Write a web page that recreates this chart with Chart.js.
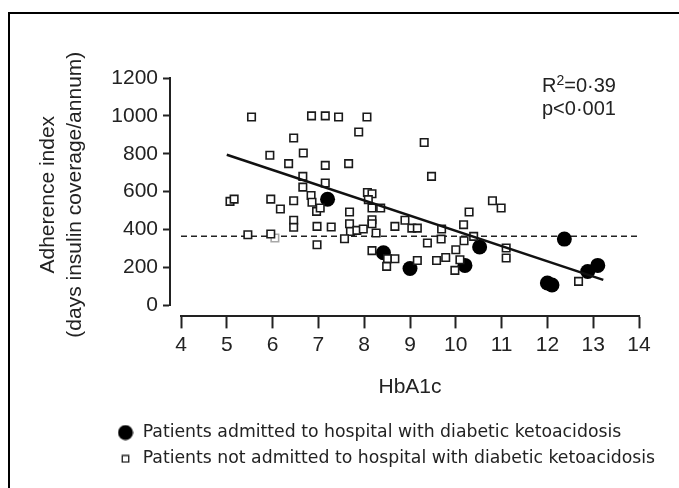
<!DOCTYPE html>
<html>
<head>
<meta charset="utf-8">
<title>Adherence index and HbA1c</title>
<script src="https://cdn.jsdelivr.net/npm/chart.js@4.4.1/dist/chart.umd.min.js"></script>
<style>
  html, body { margin: 0; padding: 0; background: #fff; }
  #wrap { position: relative; width: 679px; height: 488px; overflow: hidden; }
  #frame {
    position: absolute; left: 8px; top: 12px; right: -20px; bottom: -20px;
    border-left: 2.5px solid #000; border-top: 2.5px solid #000;
    pointer-events: none;
  }
</style>
</head>
<body>
<div id="wrap">
  <canvas id="chart"></canvas>
  <div id="frame"></div>
</div>
<script>
// patients admitted with DKA
const admittedX = [7.2, 8.42, 9.0, 10.2, 10.52, 12.0, 12.1, 12.37, 12.88, 13.1];
const admittedY = [560, 278, 195, 211, 308, 118, 108, 350, 179, 211];

// patients never admitted
const notAdmittedX = [
  5.54, 6.85, 7.15, 7.44, 6.46, 5.94, 6.35, 6.67, 7.15, 6.66, 6.66, 7.15,
  8.06, 7.88, 9.31, 7.66, 9.47,
  5.07, 5.16, 5.96, 6.17, 6.46, 6.84, 6.86, 6.96, 7.04, 6.46, 6.46, 6.97, 7.28, 5.46, 5.96, 6.97,
  8.07, 8.17, 8.09, 8.17, 8.36, 7.68, 7.68, 7.70, 7.84, 7.98, 8.17, 8.17, 8.26, 7.57, 8.67,
  8.89, 9.04, 9.16, 8.17, 8.51, 8.67, 8.49, 9.16, 9.38, 9.69, 9.68, 9.58, 9.78, 10.0, 10.09,
  9.98, 10.29, 10.17, 10.18, 10.39,
  10.80, 10.99, 11.10, 11.10, 12.68
];
const notAdmittedY = [
  994, 1000, 1000, 994, 883, 792, 748, 804, 739, 681, 624, 646,
  994, 915, 860, 748, 681,
  549, 561, 561, 509, 552, 580, 544, 496, 514, 449, 412, 417, 414, 373, 377, 320,
  596, 589, 558, 514, 514, 493, 431, 390, 396, 403, 452, 431, 382, 352, 417,
  449, 408, 408, 289, 246, 246, 206, 237, 329, 403, 350, 237, 253, 294, 241,
  185, 493, 426, 341, 364,
  552, 514, 303, 250, 127
];
// one faint square in the scan
const greyX = [6.05];
const greyY = [356];

// regression line ends and the dashed reference level
const fitX = [5.0, 13.22];
const fitY = [795, 135];
const refX = [4, 14];
const refY = [365, 365];

const xTicks = [4, 5, 6, 7, 8, 9, 10, 11, 12, 13, 14];
const yTicks = [0, 200, 400, 600, 800, 1000, 1200];

const ink = '#222';
const axisFont = '"Liberation Sans", Arial, sans-serif';

const toPoints = (xs, ys) => xs.map((x, i) => ({ x: x, y: ys[i] }));

// legend markers at their own sizes
function makeIcon(size, draw) {
    const c = document.createElement('canvas');
    c.width = c.height = size;
    draw(c.getContext('2d'));
    return c;
}
const dotIcon = makeIcon(16, (g) => {
    g.fillStyle = '#000';
    g.beginPath();
    g.arc(8, 8, 7.5, 0, Math.PI * 2);
    g.fill();
});
const boxIcon = makeIcon(9, (g) => {
    g.strokeStyle = '#1a1a1a';
    g.lineWidth = 1.3;
    g.strokeRect(1.25, 1.25, 6.5, 6.5);
});
const legendIcons = [dotIcon, boxIcon];

// axes sit slightly away from the plot box; legend may run to the right edge
const offsetAxes = {
    id: 'offsetAxes',
    afterLayout(chart) {
        chart.scales.x.top += 11;
        chart.scales.y.right -= 11;
        if (chart.legend) {
            chart.legend.right = chart.width;
            chart.legend.width = chart.legend.right - chart.legend.left;
        }
    }
};

// rotated y title and the fit statistics
const extraText = {
    id: 'extraText',
    afterDraw(chart) {
        const { ctx, chartArea } = chart;
        ctx.save();
        ctx.fillStyle = ink;

        ctx.save();
        ctx.translate(chartArea.left - 133, (chartArea.top + chartArea.bottom) / 2 + 3);
        ctx.rotate(-Math.PI / 2);
        ctx.textAlign = 'center';
        ctx.textBaseline = 'middle';
        ctx.font = '21px ' + axisFont;
        ctx.fillText('Adherence index', 0, 0);
        ctx.fillText('(days insulin coverage/annum)', 0, 27);
        ctx.restore();

        let x = chartArea.right - 97;
        const y = chartArea.top + 14;
        ctx.textBaseline = 'alphabetic';
        ctx.font = '20px ' + axisFont;
        ctx.fillText('R', x, y);
        x += ctx.measureText('R').width;
        ctx.font = '14px ' + axisFont;
        ctx.fillText('2', x, y - 7);
        x += ctx.measureText('2').width;
        ctx.font = '20px ' + axisFont;
        ctx.fillText('=0\u00b739', x, y);
        ctx.fillText('p<0\u00b7001', chartArea.right - 97, y + 23);
        ctx.restore();
    }
};

new Chart(document.getElementById('chart'), {
    type: 'scatter',
    data: {
        datasets: [
            {
                label: 'Patients admitted to hospital with diabetic ketoacidosis',
                data: toPoints(admittedX, admittedY),
                pointStyle: 'circle',
                pointRadius: 7.5,
                backgroundColor: '#000',
                borderColor: '#000',
                borderWidth: 0,
                order: 2
            },
            {
                label: 'Patients not admitted to hospital with diabetic ketoacidosis',
                data: toPoints(notAdmittedX, notAdmittedY),
                pointStyle: 'rect',
                pointRadius: 5.3,
                backgroundColor: '#fff',
                borderColor: '#1a1a1a',
                borderWidth: 1.6,
                order: 1
            },
            {
                label: '',
                data: toPoints(greyX, greyY),
                pointStyle: 'rect',
                pointRadius: 5.3,
                backgroundColor: '#fff',
                borderColor: '#a8a8a8',
                borderWidth: 1.6,
                order: 1
            },
            {
                label: '',
                data: toPoints(fitX, fitY),
                showLine: true,
                borderColor: '#111',
                borderWidth: 2.5,
                pointRadius: 0,
                order: 0
            },
            {
                label: '',
                data: toPoints(refX, refY),
                showLine: true,
                borderColor: ink,
                borderWidth: 1.5,
                borderDash: [6, 4],
                pointRadius: 0,
                order: 3
            }
        ]
    },
    options: {
        responsive: true,
        maintainAspectRatio: false,
        animation: false,
        events: [],
        clip: false,
        layout: {
            padding: { left: 108, right: 40, top: 78, bottom: 10.5 }
        },
        plugins: {
            tooltip: { enabled: false },
            legend: {
                position: 'bottom',
                align: 'start',
                labels: {
                    usePointStyle: true,
                    boxWidth: 17,
                    boxHeight: 17,
                    padding: 9,
                    color: ink,
                    font: { family: '"DejaVu Sans", sans-serif', size: 17.3 },
                    filter: (item) => item.text !== '',
                    sort: (a, b) => a.datasetIndex - b.datasetIndex,
                    generateLabels(chart) {
                        const items = Chart.defaults.plugins.legend.labels.generateLabels(chart);
                        items.forEach((item) => {
                            if (legendIcons[item.datasetIndex]) {
                                item.pointStyle = legendIcons[item.datasetIndex];
                            }
                        });
                        return items;
                    }
                }
            }
        },
        scales: {
            x: {
                type: 'linear',
                position: 'bottom',
                min: 4,
                max: 14,
                afterBuildTicks: (s) => { s.ticks = xTicks.map((v) => ({ value: v })); },
                afterFit: (s) => { s.height = 109.5; },
                grid: {
                    drawOnChartArea: false,
                    tickLength: 12,
                    tickWidth: 2,
                    tickColor: ink
                },
                border: { color: ink, width: 2 },
                ticks: {
                    autoSkip: false,
                    maxRotation: 0,
                    padding: 4,
                    color: ink,
                    font: { family: axisFont, size: 21 },
                    callback: (v) => String(v)
                },
                title: {
                    display: true,
                    text: 'HbA1c',
                    color: ink,
                    font: { family: axisFont, size: 21 },
                    padding: { top: 0, bottom: 15 }
                }
            },
            y: {
                type: 'linear',
                position: 'left',
                min: 0,
                max: 1200,
                afterBuildTicks: (s) => { s.ticks = yTicks.map((v) => ({ value: v })); },
                afterFit: (s) => { s.width = 73; },
                grid: {
                    drawOnChartArea: false,
                    tickLength: 7,
                    tickWidth: 2,
                    tickColor: ink
                },
                border: { color: ink, width: 2 },
                ticks: {
                    padding: 5,
                    color: ink,
                    font: { family: axisFont, size: 21 },
                    callback: (v) => String(v)
                }
            }
        }
    },
    plugins: [offsetAxes, extraText]
});
</script>
</body>
</html>
